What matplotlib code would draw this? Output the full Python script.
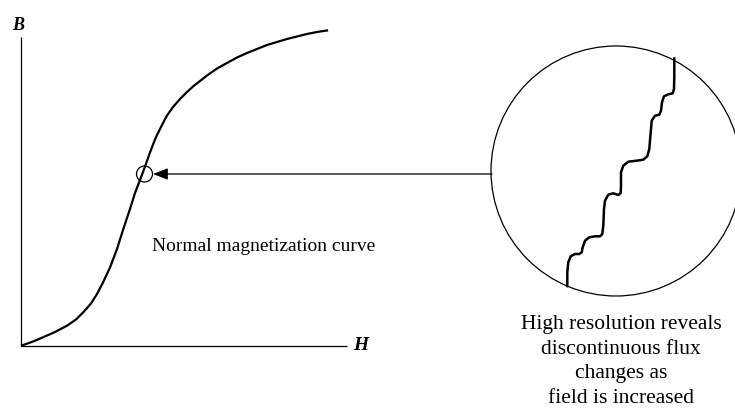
import matplotlib
matplotlib.use("Agg")
import matplotlib.pyplot as plt
from matplotlib.patches import Circle

# Everything is laid out in pixel coordinates of the 735x410 picture.

# normal magnetization curve (H, B) in picture pixels
curve_x = [22, 33, 43, 55, 67, 76, 84, 91, 97, 103, 110, 117, 123, 130, 135,
           140, 143, 147, 150, 154, 157, 162, 167, 173, 180, 187, 193, 200, 207,
           217, 227, 237, 247, 257, 267, 277, 287, 297, 307, 317, 327]
curve_y = [346.5, 342.5, 338.3, 333, 326.7, 320.5, 312.5, 304.5, 295, 283.5,
           268.5, 250, 231, 210, 194, 181, 173, 162, 153.5, 143, 136, 126,
           116.5, 108, 100, 93, 87.5, 82, 76.5, 69.5, 64, 58.5, 54, 50, 46, 43,
           40, 37.5, 35, 33, 31.5]

# magnified staircase inside the big circle
stair_x = [567.3, 567.3, 568.3, 570.7, 575.0, 579.3, 581.7, 582.7, 585.0, 589.3,
           595.0, 600.0, 602.3, 603.3, 604.0, 605.0, 608.3, 613.3, 618.3, 620.7,
           621.0, 621.0, 623.3, 628.3, 636.7, 643.3, 647.3, 649.3, 650.7, 651.7,
           655.0, 659.3, 661.0, 662.0, 664.0, 668.3, 672.7, 674.0, 674.3, 674.3]
stair_y = [288.3, 273.3, 263.3, 257.3, 255.0, 255.0, 253.3, 248.3, 241.7, 238.3,
           237.3, 237.3, 235.0, 226.7, 210.0, 201.7, 195.7, 194.3, 196.0, 194.0,
           186.7, 173.3, 166.7, 162.7, 161.7, 160.7, 157.3, 150.0, 133.3, 121.7,
           116.7, 115.7, 111.7, 103.3, 97.3, 95.3, 94.3, 90.0, 76.7, 58.3]

curve_label = "Normal magnetization curve"
zoom_label = ["High resolution reveals", "discontinuous flux",
              "changes as", "field is increased"]

fig = plt.figure(figsize=(7.35, 4.1), dpi=100)
ax = fig.add_axes([0, 0, 1, 1])
ax.set_xlim(0, 735)
ax.set_ylim(410, 0)
ax.axis("off")

serif = ["Liberation Serif", "DejaVu Serif"]

# axes
ax.plot([21, 21], [38, 346.5], color="black", lw=0.9, solid_capstyle="butt")
ax.plot([21, 347], [346.5, 346.5], color="black", lw=0.9, solid_capstyle="butt")
ax.text(18, 25, "B", family=serif, fontsize=13, fontweight="bold",
        fontstyle="italic", ha="center", va="center")
ax.text(361, 346, "H", family=serif, fontsize=14, fontweight="bold",
        fontstyle="italic", ha="center", va="center")

# B-H curve
ax.plot(curve_x, curve_y, color="black", lw=1.6, solid_joinstyle="round")

# small marker circle on the curve and arrow from the magnified view
ax.add_patch(Circle((144.5, 175), 8, fill=False, ec="black", lw=0.9))
ax.annotate("", xy=(153, 175), xytext=(492, 175),
            arrowprops=dict(arrowstyle="-|>,head_length=0.9,head_width=0.35",
                            color="black", lw=0.9, shrinkA=0, shrinkB=0))

# magnified view
ax.add_patch(Circle((616, 172), 125, fill=False, ec="black", lw=0.9,
                    clip_on=False))
ax.plot(stair_x, stair_y, color="black", lw=1.8, solid_joinstyle="round",
        solid_capstyle="butt")

ax.text(152, 247, curve_label, family=serif, fontsize=14,
        ha="left", va="center")
for i, line in enumerate(zoom_label):
    ax.text(621, 325 + i * 24.5, line, family=serif, fontsize=15.5,
            ha="center", va="center")

fig.savefig("out.png", dpi=100)
